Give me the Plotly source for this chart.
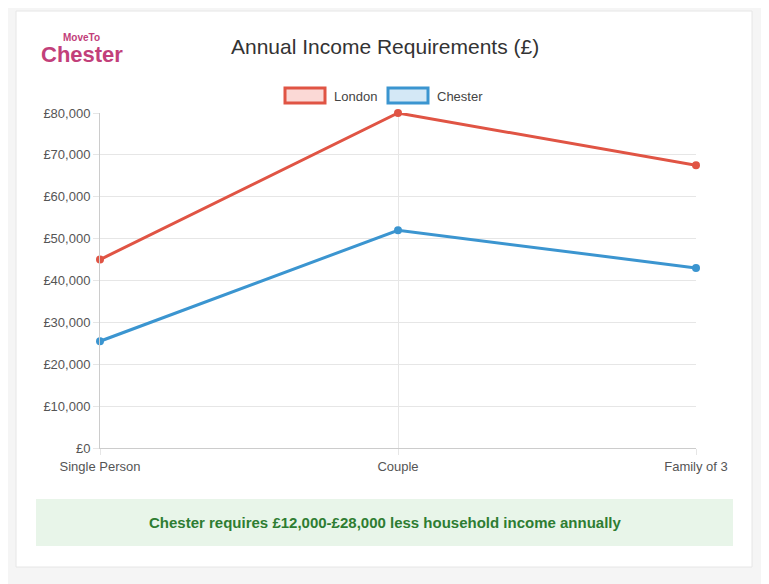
import plotly.graph_objects as go

categories = ["Single Person", "Couple", "Family of 3"]
london = [45000, 80000, 67500]
chester = [25500, 52000, 43000]
tick_vals = [0, 10000, 20000, 30000, 40000, 50000, 60000, 70000, 80000]
tick_text = ["£0", "£10,000", "£20,000", "£30,000", "£40,000", "£50,000", "£60,000", "£70,000", "£80,000"]

W, H = 769, 584
OFF = 8  # page body margin offset
L, R, T, B = 100, 696, 113, 448

def px(x):
    return (x - L) / (R - L)

def py(y):
    return (B - y) / (B - T)

fig = go.Figure()
fig.add_trace(go.Scatter(x=categories, y=london, name="London", mode="lines+markers", cliponaxis=False,
                         line=dict(color="#e05444", width=3), marker=dict(size=8, color="#e05444")))
fig.add_trace(go.Scatter(x=categories, y=chester, name="Chester", mode="lines+markers", cliponaxis=False,
                         line=dict(color="#3b95d0", width=3), marker=dict(size=8, color="#3b95d0")))

shapes = [
    dict(type="rect", xref="paper", yref="paper", x0=px(16), x1=px(752), y0=py(567), y1=py(11),
         fillcolor="white", line=dict(color="#e6e6e6", width=1), layer="below"),
    dict(type="rect", xref="paper", yref="paper", x0=px(36), x1=px(733), y0=py(546), y1=py(499),
         fillcolor="#e8f5e9", line=dict(width=0), layer="below"),
    dict(type="rect", xref="paper", yref="paper", x0=px(285), x1=px(325), y0=py(103), y1=py(88),
         fillcolor="#fbd9d6", line=dict(color="#e05444", width=3)),
    dict(type="rect", xref="paper", yref="paper", x0=px(388), x1=px(428), y0=py(103), y1=py(88),
         fillcolor="#d4e8f6", line=dict(color="#3b95d0", width=3)),
]

def note(text, x, y, size, color, xanchor="center"):
    return dict(text=text, x=px(x), y=py(y), xref="paper", yref="paper", xanchor=xanchor,
                yanchor="middle", showarrow=False, font=dict(size=size, color=color))

annotations = [
    note("Annual Income Requirements (£)", 385, 46, 21, "#333"),
    note("<b>MoveTo</b>", 81, 37, 10, "#c2407a"),
    note("<b>Chester</b>", 82, 54, 22, "#c2407a"),
    note("London", 332, 96, 13, "#444", "left"),
    note("Chester", 435, 96, 13, "#444", "left"),
    note("<b>Chester requires £12,000-£28,000 less household income annually</b>", 385, 522, 15, "#2e7d32"),
]

fig.update_layout(
    width=W, height=H,
    margin=dict(l=L - OFF, r=W - R + OFF, t=T - OFF, b=H - B + OFF),
    paper_bgcolor="#f5f5f5", plot_bgcolor="white",
    showlegend=False,
    font=dict(family="Liberation Sans, Arial, sans-serif", size=13, color="#555"),
    shapes=shapes, annotations=annotations,
    xaxis=dict(range=[0, 2], showgrid=True, gridcolor="#e6e6e6", showline=True, linecolor="#ccc",
               ticks="outside", ticklen=6, tickcolor="#e6e6e6", fixedrange=True),
    yaxis=dict(range=[0, 80000], tickvals=tick_vals, ticktext=tick_text, showgrid=True,
               gridcolor="#e6e6e6", showline=True, linecolor="#ccc", ticks="outside",
               ticklen=6, tickcolor="#e6e6e6", zeroline=False),
)

fig.write_html("out.html")
